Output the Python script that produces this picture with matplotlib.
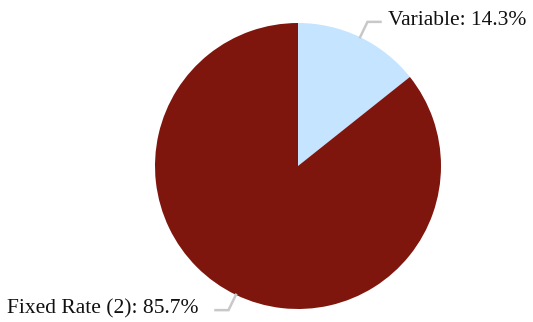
import numpy as np
import matplotlib
matplotlib.use("Agg")
import matplotlib.pyplot as plt

labels = ["Variable", "Fixed Rate (2)"]
shares = [14.3, 85.7]
colors = ["#C4E4FF", "#7F160E"]

W, H = 533, 322
fig = plt.figure(figsize=(W / 100, H / 100), dpi=100)
ax = fig.add_axes([0, 0, 1, 1])

cx, cy, r = 298, 156, 143
wedges, _ = ax.pie(shares, colors=colors, startangle=90, counterclock=False,
                   center=(cx, cy), radius=r, frame=True,
                   wedgeprops=dict(linewidth=0))
ax.set_xlim(0, W)
ax.set_ylim(0, H)
ax.set_aspect("equal")
ax.axis("off")

elbow = 17
run = 13
for w, lab, val in zip(wedges, labels, shares):
    mid = np.deg2rad((w.theta1 + w.theta2) / 2)
    dx, dy = np.cos(mid), np.sin(mid)
    x0, y0 = cx + r * dx, cy + r * dy
    x1, y1 = cx + (r + elbow) * dx, cy + (r + elbow) * dy
    side = 1 if dx >= 0 else -1
    x2 = x1 + side * run
    ax.plot([x0, x1, x2], [y0, y1, y1], color="#C8C8C8", lw=1.8,
            solid_joinstyle="miter", clip_on=False)
    gap = 8 if side > 0 else 17
    ax.text(x2 + side * gap, y1 + 1, f"{lab}: {val}%", fontsize=15.5,
            family="Liberation Serif", color="#111111",
            ha="left" if side > 0 else "right", va="center")

fig.savefig("out.png", dpi=100)
